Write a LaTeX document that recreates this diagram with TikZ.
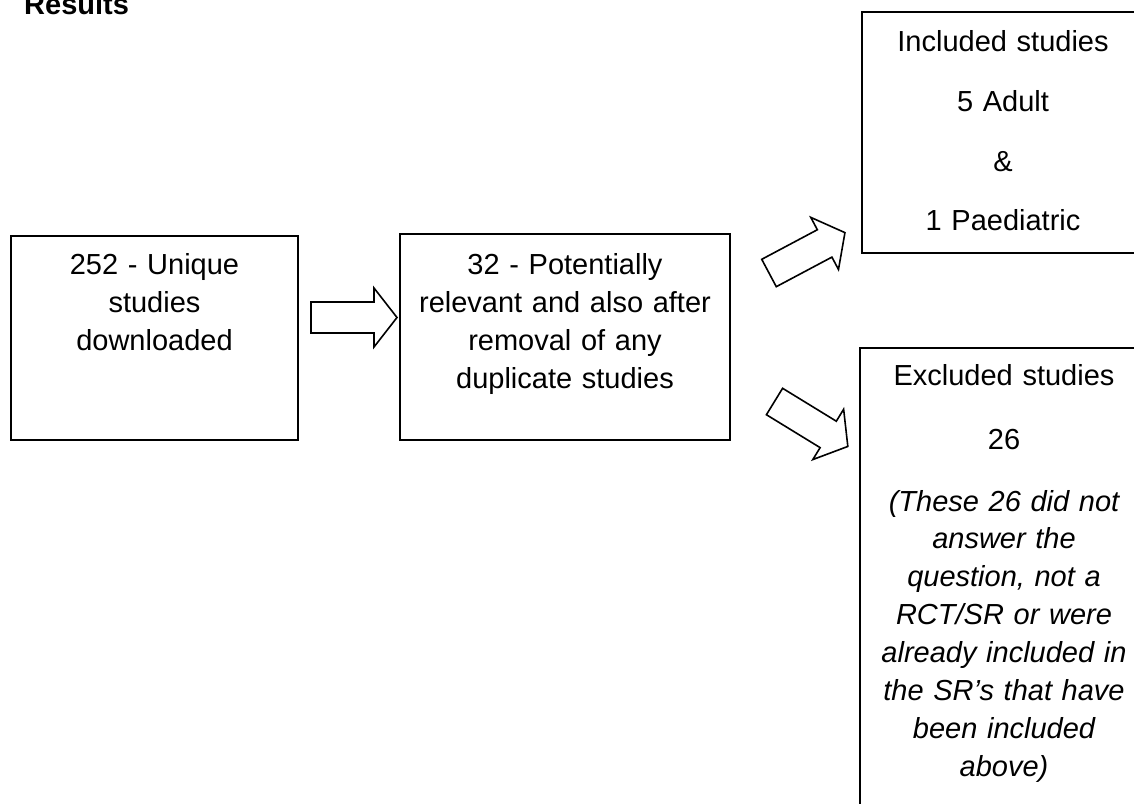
\documentclass[tikz,border=0pt]{standalone}
\usepackage{fontspec}
\setmainfont{Liberation Sans}
\begin{document}
\begin{tikzpicture}[x=1pt,y=-1pt]
\tikzset{
  box/.style={draw, line width=2pt, inner sep=0pt, outer sep=0pt, anchor=north west},
  txt/.style={align=center, text width=330pt, inner sep=0pt, anchor=base,
              font=\fontsize{29}{37.86}\selectfont},
  blockarrow/.pic={
    \draw[line width=1.6pt, line join=miter, fill=white]
      (0,-15.5) -- (63,-15.5) -- (63,-29.5) -- (86,0) -- (63,29.5)
      -- (63,15.5) -- (0,15.5) -- cycle;
  }
}
\useasboundingbox (0,0) rectangle (1134,803);
\clip (0,0) rectangle (1134,803);

% heading
\node[anchor=base west, inner sep=0pt, font=\fontsize{29}{35}\selectfont\bfseries]
  (title) at (24,14.5) {Results};

% boxes
\node[box, minimum width=287pt, minimum height=204pt] (b1) at (11,236) {};
\node[box, minimum width=330pt, minimum height=206pt] (b2) at (400,234) {};
\node[box, minimum width=280pt, minimum height=241pt] (b3) at (862,12) {};
\node[box, minimum width=290pt, minimum height=500pt] (b4) at (860,348) {};

% box texts
\node[txt] (t1) at (154.5,274.5) {252 - Unique\\studies\\downloaded};
\node[txt] (t2) at (565,274.5) {32 - Potentially\\relevant and also after\\removal of any\\duplicate studies};

\node[txt] (t3a) at (1003,51) {Included studies};
\node[txt] (t3b) at (1003,111) {5 Adult};
\node[txt] (t3c) at (1003,171) {\&};
\node[txt] (t3d) at (1003,230) {1 Paediatric};

\node[txt] (t4a) at (1004,385) {Excluded studies};
\node[txt] (t4b) at (1004,449) {26};
\node[txt, font=\fontsize{29}{37.86}\selectfont\itshape] (t4c) at (1004,511)
  {(These 26 did not\\answer the\\question, not a\\RCT/SR or were\\already included in\\the SR’s that have\\been included\\above)};

% block arrows between the boxes
\coordinate (a1) at (311,317.5);
\coordinate (a2) at (769,273);
\coordinate (a3) at (774.5,401.5);
\pic at (a1) {blockarrow};
\pic[rotate=28] at (a2) {blockarrow};
\pic[rotate=-31.5] at (a3) {blockarrow};
\end{tikzpicture}
\end{document}
